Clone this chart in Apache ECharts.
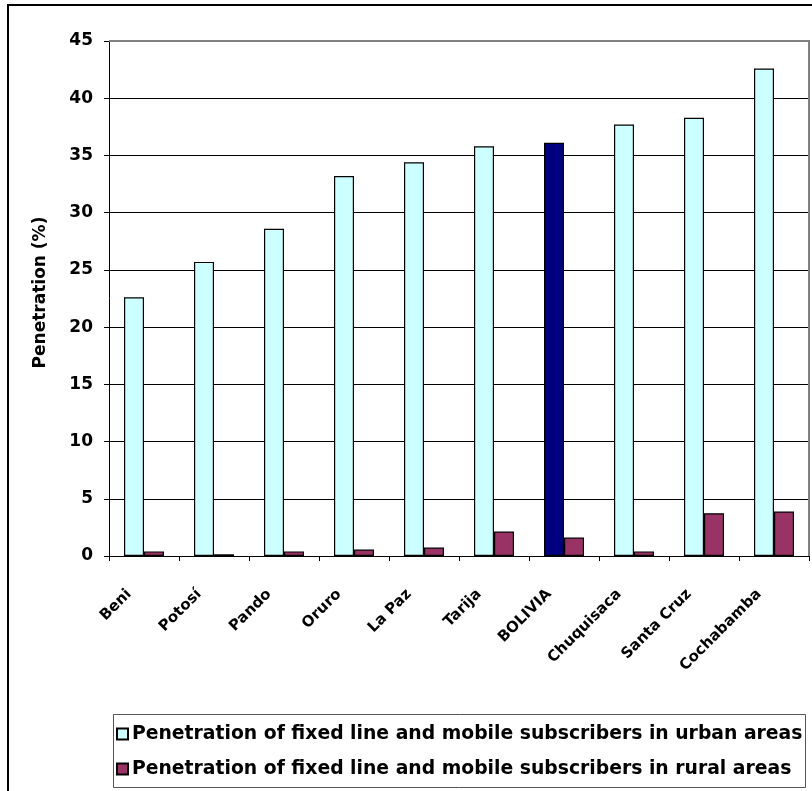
<!DOCTYPE html>
<html>
<head>
<meta charset="utf-8">
<script src="https://cdn.jsdelivr.net/npm/echarts@6/dist/echarts.min.js"></script>
<style>
  html, body { margin: 0; padding: 0; background: #fff; }
  #chart { width: 812px; height: 791px; }
</style>
</head>
<body>
<div id="chart"></div>
<script>
// Telephone penetration by department, Bolivia
const departments = ['Beni', 'Potosí', 'Pando', 'Oruro', 'La Paz', 'Tarija', 'BOLIVIA', 'Chuquisaca', 'Santa Cruz', 'Cochabamba'];
const urbanPenetration = [22.6, 25.7, 28.6, 33.2, 34.4, 35.8, 36.1, 37.7, 38.3, 42.6];
const ruralPenetration = [0.4, 0.15, 0.4, 0.56, 0.74, 2.14, 1.61, 0.4, 3.74, 3.89];
const seriesNames = [
  'Penetration of fixed line and mobile subscribers in urban areas',
  'Penetration of fixed line and mobile subscribers in rural areas'
];
const yTicks = { min: 0, max: 45, step: 5 };
const nationalLabel = 'BOLIVIA';

const FONT = '"DejaVu Sans", "Liberation Sans", Arial, sans-serif';

const urbanData = departments.map((d, i) => (
  d === nationalLabel
    ? { value: urbanPenetration[i], itemStyle: { color: '#000080' } }
    : urbanPenetration[i]
));

const chart = echarts.init(document.getElementById('chart'), null, { renderer: 'canvas' });
chart.setOption({
  animation: false,
  backgroundColor: '#ffffff',
  textStyle: { fontFamily: FONT },
  graphic: [
    // outer chart frame
    {
      type: 'rect', z: -10, silent: true,
      shape: { x: 8, y: 5, width: 900, height: 900 },
      style: { fill: 'none', stroke: '#000', lineWidth: 2 }
    },
    // plot-area border (top and right edges)
    {
      type: 'polyline', z: 1, silent: true,
      shape: { points: [[109, 41], [809, 41], [809, 556]] },
      style: { fill: 'none', stroke: '#808080', lineWidth: 2 }
    },
    // legend frame
    {
      type: 'rect', z: 3, silent: true,
      shape: { x: 113.5, y: 714.5, width: 692, height: 73 },
      style: { fill: '#fff', stroke: '#555', lineWidth: 1 }
    }
  ],
  grid: { left: 109, right: 3, top: 41, bottom: 235, containLabel: false },
  legend: {
    orient: 'vertical',
    left: 116, top: 724,
    padding: 0,
    itemGap: 15,
    itemWidth: 11, itemHeight: 11,
    z: 5,
    textStyle: { fontFamily: FONT, fontSize: 18.8, lineHeight: 20, fontWeight: 'bold', color: '#000', padding: [0, 0, 0, -1] },
    data: seriesNames.map(n => ({ name: n, icon: 'rect' }))
  },
  xAxis: {
    type: 'category',
    data: departments,
    axisLine: { lineStyle: { color: '#000', width: 1 } },
    axisTick: { show: true, length: 5, lineStyle: { color: '#000' } },
    axisLabel: {
      rotate: 45, interval: 0, margin: 21, padding: [0, 21, 0, 0],
      fontFamily: FONT, fontSize: 15, fontWeight: 'bold', color: '#000'
    }
  },
  yAxis: {
    type: 'value',
    min: yTicks.min, max: yTicks.max, interval: yTicks.step,
    name: 'Penetration (%)',
    nameLocation: 'middle',
    nameGap: 60,
    nameTextStyle: { fontFamily: FONT, fontSize: 17, fontWeight: 'bold', color: '#000', padding: [0, 0, 0, 12] },
    axisLine: { show: true, lineStyle: { color: '#000', width: 1 } },
    axisTick: { show: true, length: 5, lineStyle: { color: '#000' } },
    axisLabel: { margin: 16, fontFamily: FONT, fontSize: 17, fontWeight: 'bold', color: '#000' },
    splitLine: { show: true, lineStyle: { color: '#000', width: 1 } }
  },
  series: [
    {
      name: seriesNames[0],
      type: 'bar',
      data: urbanData,
      barWidth: 20,
      barGap: '0%',
      itemStyle: { color: '#CCFFFF', borderColor: '#000', borderWidth: 1.2 }
    },
    {
      name: seriesNames[1],
      type: 'bar',
      data: ruralPenetration,
      barWidth: 20,
      itemStyle: { color: '#993366', borderColor: '#000', borderWidth: 1.2 }
    }
  ]
});
</script>
</body>
</html>
